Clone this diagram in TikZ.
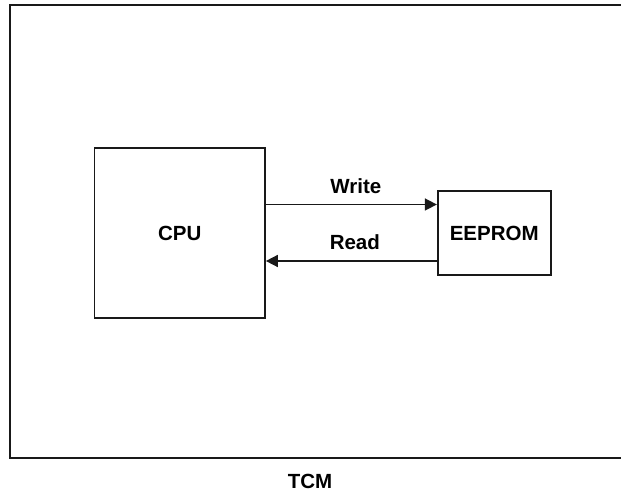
\documentclass[tikz,border=0pt]{standalone}
\usepackage{fontspec}
\setmainfont{Liberation Sans}
\usetikzlibrary{positioning,arrows.meta,calc}

\begin{document}
\begin{tikzpicture}[
  x=1pt, y=1pt,
  node distance=1.0cm and 1.0cm,
  box/.style={draw=black!90, line width=1.7pt, inner sep=0pt, font=\bfseries\fontsize{20.5}{24}\selectfont},
  lbl/.style={font=\bfseries\fontsize{20.5}{24}\selectfont, inner sep=0pt},
  arrow/.style={-{Triangle[length=12pt,width=12pt]}, line width=1.6pt, draw=black!90}
]
\useasboundingbox (0,0) rectangle (621,497);
\clip (0,0) rectangle (621,497);

% Outer frame (runs past the right edge)
\node[box, minimum width=620pt, minimum height=453pt] (frame) at (320,265.5) {};
\node[lbl] (tcm) at (310,16) {TCM};

% CPU and EEPROM
\node[box, minimum width=170.5pt, minimum height=170pt] (cpu) at (179.75,264) {CPU};
\node[box, minimum width=113pt, minimum height=84pt, right=171pt of cpu] (eeprom) {EEPROM};

% Arrows
\draw[arrow] ($(cpu.east)+(0,28.5)$) -- ($(eeprom.west)+(0,28.5)$)
  node[lbl, midway, xshift=4.5pt, yshift=18.5pt] (wr) {Write};
\draw[arrow] ($(eeprom.west)+(0,-28)$) -- ($(cpu.east)+(0,-28)$)
  node[lbl, midway, xshift=3.5pt, yshift=18.5pt] (rd) {Read};

\end{tikzpicture}
\end{document}
